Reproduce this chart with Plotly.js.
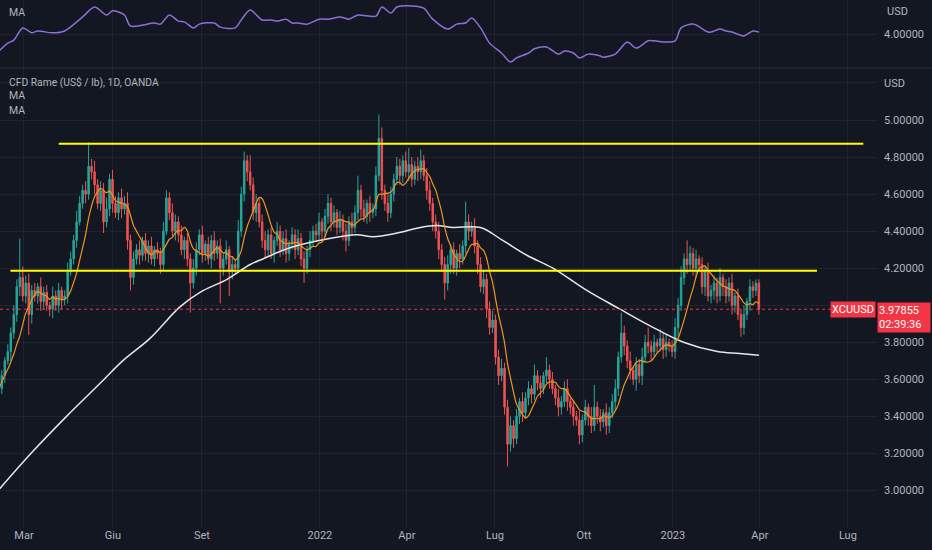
<!DOCTYPE html>
<html><head><meta charset="utf-8">
<script src="https://cdn.plot.ly/plotly-3.0.1.min.js"></script>
<style>html,body{margin:0;padding:0;background:#131722;}#chart{width:932px;height:550px;}</style>
</head><body><div id="chart"></div>
<script>
// ---- data ----
const firstDate = '2021-02-03';
const lastDate = '2023-03-31';
const firstOpen = 3.52;
const closes = [
3.55,3.62,3.70,3.75,3.85,3.95,4.10,4.15,4.05,4.12,3.95,4.08,4.05,4.10,4.02,
4.07,4.00,3.98,4.05,4.00,4.08,4.03,4.05,4.18,4.25,4.35,4.45,4.55,4.62,4.60,
4.75,4.72,4.65,4.55,4.62,4.45,4.52,4.68,4.55,4.50,4.58,4.52,4.55,4.35,4.15,
4.25,4.30,4.27,4.35,4.28,4.32,4.25,4.30,4.28,4.22,4.40,4.58,4.50,4.40,4.45,
4.38,4.30,4.35,4.25,4.12,4.20,4.30,4.38,4.28,4.33,4.25,4.35,4.28,4.32,4.20,
4.25,4.30,4.18,4.22,4.20,4.40,4.60,4.78,4.72,4.65,4.50,4.55,4.45,4.35,4.30,
4.38,4.28,4.35,4.40,4.30,4.36,4.28,4.33,4.38,4.30,4.36,4.25,4.20,4.30,4.35,
4.40,4.38,4.45,4.40,4.48,4.55,4.45,4.50,4.42,4.46,4.40,4.35,4.45,4.42,4.50,
4.62,4.52,4.48,4.55,4.50,4.52,4.70,4.90,4.62,4.55,4.50,4.60,4.68,4.75,4.70,
4.78,4.72,4.76,4.68,4.75,4.72,4.78,4.70,4.62,4.55,4.45,4.40,4.30,4.22,4.12,
4.22,4.30,4.20,4.28,4.25,4.32,4.45,4.40,4.42,4.32,4.22,4.10,4.14,3.98,3.88,
3.92,3.72,3.62,3.66,3.45,3.25,3.35,3.28,3.40,3.48,3.42,3.50,3.55,3.52,3.62,
3.58,3.55,3.62,3.65,3.60,3.55,3.50,3.45,3.48,3.55,3.48,3.45,3.40,3.38,3.30,
3.38,3.45,3.40,3.35,3.45,3.40,3.37,3.42,3.35,3.42,3.48,3.55,3.72,3.85,3.78,
3.70,3.65,3.60,3.68,3.62,3.72,3.80,3.78,3.75,3.80,3.78,3.82,3.76,3.80,3.78,
3.75,3.88,4.00,4.15,4.25,4.22,4.28,4.20,4.25,4.22,4.10,4.18,4.05,4.08,4.12,
4.05,4.15,4.10,4.05,4.12,4.00,4.05,3.95,3.88,3.95,4.02,4.10,4.08,4.12,3.97855
];
const wickHigh = [
0.02,0.03,0.02,0.04,0.03,0.05,0.04,0.21,0.06,0.04,0.05,0.03,0.04,0.02,0.05,
0.03,0.04,0.02,0.05,0.03,0.04,0.02,0.03,0.05,0.04,0.03,0.06,0.04,0.03,0.05,
0.13,0.04,0.06,0.03,0.05,0.04,0.06,0.03,0.05,0.04,0.03,0.05,0.04,0.06,0.03,
0.04,0.03,0.05,0.02,0.04,0.03,0.05,0.02,0.04,0.03,0.05,0.04,0.03,0.05,0.04,
0.03,0.05,0.02,0.04,0.03,0.05,0.04,0.03,0.05,0.02,0.04,0.03,0.05,0.03,0.04,
0.03,0.05,0.02,0.04,0.03,0.06,0.04,0.05,0.03,0.09,0.04,0.05,0.03,0.04,0.05,
0.03,0.04,0.02,0.05,0.03,0.04,0.05,0.02,0.04,0.03,0.05,0.03,0.04,0.02,0.05,
0.03,0.04,0.05,0.02,0.04,0.05,0.03,0.04,0.02,0.05,0.03,0.04,0.03,0.05,0.04,
0.08,0.03,0.05,0.02,0.04,0.03,0.05,0.13,0.06,0.03,0.05,0.04,0.03,0.05,0.04,
0.03,0.05,0.09,0.04,0.03,0.05,0.06,0.03,0.04,0.05,0.03,0.04,0.05,0.03,0.04,
0.05,0.03,0.04,0.02,0.05,0.03,0.11,0.04,0.03,0.05,0.03,0.04,0.05,0.03,0.04,
0.05,0.03,0.04,0.05,0.03,0.04,0.05,0.03,0.04,0.02,0.05,0.03,0.04,0.02,0.06,
0.03,0.04,0.02,0.07,0.03,0.04,0.02,0.05,0.03,0.04,0.05,0.02,0.04,0.03,0.05,
0.03,0.04,0.02,0.05,0.12,0.03,0.04,0.02,0.05,0.03,0.04,0.05,0.03,0.11,0.04,
0.03,0.05,0.02,0.04,0.03,0.05,0.04,0.08,0.03,0.04,0.02,0.05,0.03,0.04,0.02,
0.03,0.05,0.04,0.06,0.03,0.10,0.04,0.03,0.05,0.02,0.04,0.03,0.05,0.03,0.04,
0.03,0.05,0.02,0.04,0.03,0.05,0.02,0.04,0.03,0.05,0.02,0.04,0.03,0.02,0.02
];
const wickLow = [
0.02,0.03,0.04,0.02,0.05,0.03,0.04,0.05,0.03,0.04,0.11,0.05,0.03,0.04,0.05,
0.04,0.03,0.04,0.05,0.03,0.04,0.05,0.03,0.04,0.02,0.03,0.04,0.02,0.03,0.05,
0.03,0.04,0.05,0.03,0.04,0.06,0.03,0.04,0.05,0.03,0.04,0.05,0.03,0.05,0.07,
0.04,0.03,0.05,0.03,0.04,0.05,0.03,0.04,0.03,0.05,0.03,0.02,0.04,0.03,0.05,
0.04,0.03,0.05,0.04,0.16,0.03,0.04,0.03,0.05,0.04,0.03,0.05,0.04,0.03,0.19,
0.04,0.03,0.13,0.04,0.03,0.02,0.03,0.04,0.05,0.03,0.04,0.05,0.03,0.04,0.05,
0.04,0.03,0.05,0.03,0.04,0.03,0.05,0.04,0.03,0.05,0.03,0.04,0.08,0.03,0.04,
0.03,0.04,0.03,0.05,0.03,0.04,0.05,0.03,0.04,0.03,0.05,0.06,0.03,0.04,0.03,
0.04,0.05,0.03,0.04,0.05,0.03,0.04,0.03,0.05,0.04,0.05,0.03,0.04,0.03,0.05,
0.04,0.03,0.05,0.04,0.03,0.05,0.04,0.03,0.05,0.04,0.05,0.04,0.05,0.04,0.09,
0.04,0.05,0.03,0.04,0.05,0.03,0.04,0.05,0.03,0.04,0.05,0.03,0.04,0.05,0.04,
0.03,0.04,0.05,0.03,0.04,0.12,0.04,0.05,0.03,0.04,0.05,0.03,0.04,0.05,0.03,
0.04,0.05,0.03,0.04,0.05,0.03,0.04,0.05,0.04,0.03,0.05,0.04,0.05,0.03,0.05,
0.04,0.03,0.05,0.04,0.03,0.04,0.05,0.03,0.05,0.04,0.03,0.05,0.04,0.03,0.05,
0.04,0.05,0.03,0.06,0.04,0.05,0.03,0.04,0.05,0.03,0.04,0.03,0.05,0.04,0.03,
0.03,0.04,0.05,0.03,0.04,0.05,0.03,0.04,0.05,0.03,0.04,0.05,0.03,0.04,0.05,
0.04,0.03,0.05,0.04,0.03,0.05,0.04,0.03,0.05,0.04,0.03,0.05,0.04,0.03,0.03
];
// long moving average (white), read at these dates
const whiteDates = ['2021-02-04','2021-03-10','2021-04-14','2021-05-19','2021-06-11','2021-07-09','2021-08-09','2021-08-30','2021-09-27','2021-10-21','2021-11-03','2021-12-01','2022-01-11','2022-02-08','2022-02-25','2022-03-22','2022-04-15','2022-05-02','2022-05-19','2022-06-16','2022-07-09','2022-08-03','2022-08-30','2022-10-04','2022-11-07','2022-12-08','2023-01-12','2023-02-16','2023-03-11','2023-03-31'];
const whiteVals = [3.01,3.21,3.40,3.58,3.70,3.82,3.99,4.07,4.14,4.22,4.25,4.31,4.36,4.38,4.37,4.39,4.42,4.43,4.42,4.42,4.35,4.27,4.20,4.08,3.98,3.89,3.80,3.75,3.74,3.73];
// upper pane MA (purple), read at these candle indices
const purpleIdx = [0,3,5,8,11,13,18,22,28,32,36,38,42,44,52,54,57,60,62,65,67,72,74,79,81,84,88,91,93,96,98,100,103,107,110,114,117,120,126,128,131,133,138,142,145,150,153,156,158,161,164,168,171,173,177,179,183,187,189,192,194,197,201,202,206,210,213,217,219,222,226,228,232,237,238,241,243,245,249,252,254];
const purpleVals = [3.55,3.76,3.84,4.16,4.03,4.08,4.03,4.08,4.45,4.71,4.50,4.61,4.50,4.21,4.29,4.26,4.50,4.34,4.32,4.16,4.26,4.29,4.18,4.16,4.37,4.63,4.37,4.37,4.34,4.39,4.29,4.29,4.26,4.39,4.39,4.45,4.39,4.50,4.47,4.71,4.55,4.71,4.74,4.68,4.39,4.13,4.26,4.29,4.42,4.16,3.76,3.50,3.26,3.37,3.50,3.61,3.66,3.47,3.55,3.50,3.37,3.47,3.42,3.39,3.47,3.79,3.63,3.82,3.82,3.79,3.82,4.16,4.26,4.05,4.05,4.13,4.08,4.05,3.95,4.08,4.05];
const xTickVals = ['2021-03-01','2021-06-01','2021-09-01','2022-01-01','2022-04-01','2022-07-01','2022-10-01','2023-01-01','2023-04-01','2023-07-01'];
const xTickText = ['Mar','Giu','Set','2022','Apr','Lug','Ott','2023','Apr','Lug'];
const yTickVals = [3.0,3.2,3.4,3.6,3.8,4.0,4.2,4.4,4.6,4.8,5.0,5.2];
// the 4.00000 label sits behind the last-price tag, as in the reference
const yTickText = ['3.00000','3.20000','3.40000','3.60000','3.80000','','4.20000','4.40000','4.60000','4.80000','5.00000','USD'];
const resistanceLevel = 4.872, resistanceFrom = '2021-04-06', resistanceTo = '2023-07-17';
const supportLevel = 4.186, supportFrom = '2021-02-15', supportTo = '2023-05-30';
const lastPrice = 3.97855;
const symbol = 'XCUUSD';
const countdown = '02:39:36';
const maWindow = 8;

// ---- build ----
const n = closes.length;
const t0 = Date.parse(firstDate + 'T00:00:00Z'), t1 = Date.parse(lastDate + 'T00:00:00Z');
const fmt = ms => new Date(ms).toISOString().slice(0, 19).replace('T', ' ');
const dates = closes.map((_, i) => fmt(t0 + (t1 - t0) * i / (n - 1)));
const opens = closes.map((c, i) => i === 0 ? firstOpen : closes[i - 1]);
const highs = closes.map((c, i) => +(Math.max(opens[i], c) + wickHigh[i]).toFixed(5));
const lows = closes.map((c, i) => +(Math.min(opens[i], c) - wickLow[i]).toFixed(5));
const orange = closes.map((c, i) => {
  const s = closes.slice(Math.max(0, i - maWindow + 1), i + 1);
  return s.reduce((a, b) => a + b, 0) / s.length;
});
const purpleDates = purpleIdx.map(i => dates[i]);

const UP = '#26a69a', DN = '#ef5350', GRID = '#1f2330', TXT = '#b2b5be';
const H = 527, W = 877;

const traces = [
  {type: 'candlestick', x: dates, open: opens, high: highs, low: lows, close: closes,
   xaxis: 'x', yaxis: 'y', whiskerwidth: 0, hoverinfo: 'skip',
   increasing: {line: {color: UP, width: 1}, fillcolor: UP},
   decreasing: {line: {color: DN, width: 1}, fillcolor: DN}},
  {type: 'scatter', mode: 'lines', x: whiteDates, y: whiteVals, xaxis: 'x', yaxis: 'y',
   line: {color: '#e6e6e6', width: 1.5, shape: 'spline', smoothing: 1}, hoverinfo: 'skip'},
  {type: 'scatter', mode: 'lines', x: dates, y: orange, xaxis: 'x', yaxis: 'y',
   line: {color: '#f0961e', width: 1.2, shape: 'spline', smoothing: 1}, hoverinfo: 'skip'},
  {type: 'scatter', mode: 'lines', x: purpleDates, y: purpleVals, xaxis: 'x', yaxis: 'y2',
   line: {color: '#8e6fd8', width: 1.5, shape: 'spline', smoothing: 0.8}, hoverinfo: 'skip'}
];

const layout = {
  width: 932, height: 550,
  margin: {l: 0, r: 55, t: 0, b: 23},
  paper_bgcolor: '#131722', plot_bgcolor: '#131722',
  showlegend: false, hovermode: false,
  font: {family: 'Roboto, "Noto Sans", sans-serif', size: 11, color: TXT},
  xaxis: {type: 'date', range: ['2021-02-04 05:00', '2023-07-31 03:00'],
    tickmode: 'array', tickvals: xTickVals, ticktext: xTickText,
    showgrid: true, gridcolor: GRID, gridwidth: 1, ticks: '', zeroline: false, showline: false,
    rangeslider: {visible: false}, fixedrange: true, anchor: 'y', tickfont: {size: 11, color: TXT}},
  yaxis: {domain: [0, 1 - 69 / H], range: [2.803, 5.2753], side: 'right',
    tickmode: 'array', tickvals: yTickVals, ticktext: yTickText,
    showgrid: true, gridcolor: GRID, ticks: '', zeroline: false, showline: false,
    ticklabelstandoff: 6, fixedrange: true, tickfont: {size: 11, color: TXT}},
  yaxis2: {domain: [1 - 68 / H, 1], range: [3.105, 4.895], side: 'right', anchor: 'x',
    tickmode: 'array', tickvals: [4.0], ticktext: ['4.00000'],
    showgrid: true, gridcolor: GRID, ticks: '', zeroline: false, showline: false,
    ticklabelstandoff: 6, fixedrange: true, tickfont: {size: 11, color: TXT}},
  shapes: [
    {type: 'line', xref: 'paper', yref: 'paper', x0: 0, x1: 932 / W, y0: 1 - 68 / H, y1: 1 - 68 / H,
     line: {color: '#2a2e39', width: 1}},
    {type: 'line', xref: 'x', yref: 'y', x0: resistanceFrom, x1: resistanceTo, y0: resistanceLevel, y1: resistanceLevel,
     line: {color: '#ffff00', width: 2}},
    {type: 'line', xref: 'x', yref: 'y', x0: supportFrom, x1: supportTo, y0: supportLevel, y1: supportLevel,
     line: {color: '#ffff00', width: 2}},
    {type: 'line', xref: 'paper', yref: 'y', x0: 0, x1: 833 / W, y0: lastPrice, y1: lastPrice,
     line: {color: '#f23645', width: 1, dash: 'dot'}}
  ],
  annotations: [
    {xref: 'paper', yref: 'paper', x: 7 / W, y: 1 - 13 / H, xanchor: 'left', yanchor: 'middle',
     text: 'MA', showarrow: false, font: {size: 10.5, color: TXT}},
    {xref: 'paper', yref: 'paper', x: 885 / W, y: 1 - 11 / H, xanchor: 'left', yanchor: 'middle',
     text: 'USD', showarrow: false, font: {size: 11, color: TXT}},
    {xref: 'paper', yref: 'paper', x: 7 / W, y: 1 - 82 / H, xanchor: 'left', yanchor: 'middle',
     text: 'CFD Rame (US$ / lb), 1D, OANDA', showarrow: false, font: {size: 10.3, color: TXT}},
    {xref: 'paper', yref: 'paper', x: 7 / W, y: 1 - 96 / H, xanchor: 'left', yanchor: 'middle',
     text: 'MA', showarrow: false, font: {size: 10.5, color: TXT}},
    {xref: 'paper', yref: 'paper', x: 7 / W, y: 1 - 110 / H, xanchor: 'left', yanchor: 'middle',
     text: 'MA', showarrow: false, font: {size: 10.5, color: TXT}},
    {xref: 'paper', yref: 'y', x: 1, y: lastPrice, xanchor: 'right', yanchor: 'middle', xshift: -1,
     text: symbol, showarrow: false, bgcolor: '#f23645', borderpad: 1,
     font: {size: 11, color: '#ffffff'}},
    {xref: 'paper', yref: 'y', x: 1, y: lastPrice, xanchor: 'left', yanchor: 'top', yshift: 7,
     text: lastPrice.toFixed(5) + '<br>' + countdown, showarrow: false, bgcolor: '#f23645',
     borderpad: 1, align: 'left', width: 50, font: {size: 11, color: '#ffffff'}}
  ]
};

Plotly.newPlot('chart', traces, layout, {staticPlot: true, displayModeBar: false});
</script>
</body></html>
